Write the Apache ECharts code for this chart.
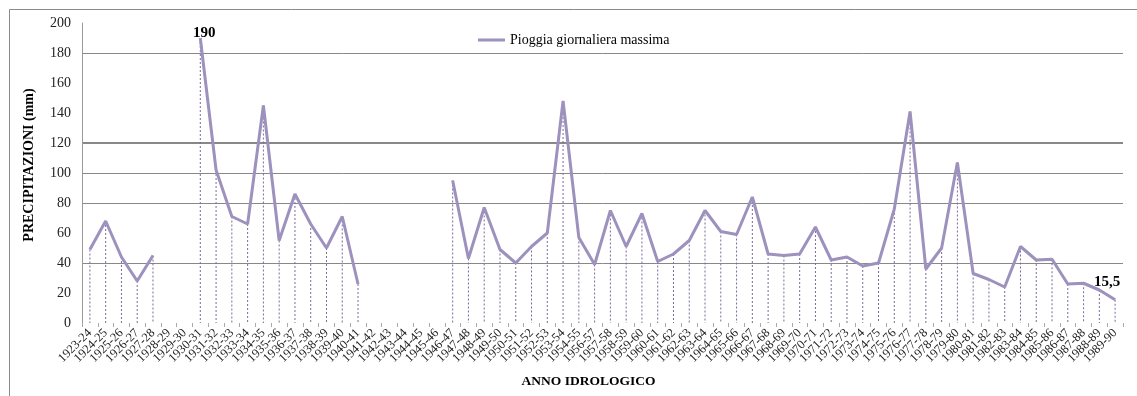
<!DOCTYPE html>
<html>
<head>
<meta charset="utf-8">
<script src="https://cdn.jsdelivr.net/npm/echarts@6/dist/echarts.min.js"></script>
<style>
html,body{margin:0;padding:0;background:#fff;}
#chart{width:1137px;height:396px;}
</style>
</head>
<body>
<div id="chart"></div>
<script>
const categories = ["1923-24","1924-25","1925-26","1926-27","1927-28","1928-29","1929-30","1930-31","1931-32","1932-33","1933-34","1934-35","1935-36","1936-37","1937-38","1938-39","1939-40","1940-41","1941-42","1942-43","1943-44","1944-45","1945-46","1946-47","1947-48","1948-49","1949-50","1950-51","1951-52","1952-53","1953-54","1954-55","1956-57","1957-58","1958-59","1959-60","1960-61","1961-62","1962-63","1963-64","1964-65","1965-66","1966-67","1967-68","1968-69","1969-70","1970-71","1971-72","1972-73","1973-74","1974-75","1975-76","1976-77","1977-78","1978-79","1979-80","1980-81","1981-82","1982-83","1983-84","1984-85","1985-86","1986-87","1987-88","1988-89","1989-90"];
const rainMax = [49,68,44,28,45,null,null,190,102,71,66,145,55,86,66,50,71,26,null,null,null,null,null,95,43,77,49,40,51,60,148,57,39,75,51,73,41,46,55,75,61,59,84,46,45,46,64,42,44,38,40,76,141,36,50,107,33,29,24,51,42,42.5,26,26.5,22,15.5];
const labelledIdx = [7, 65];
const yTicks = [0,20,40,60,80,100,120,140,160,180,200];
const visibleGrid = [180,120,100,80,40];
const seriesName = "Pioggia giornaliera massima";

const serif = "'Liberation Serif', 'Times New Roman', serif";
const lineColor = "#9d91bd";
const dropColor = "#7b6b9e";

const lineData = rainMax.map((v, i) => {
  if (!labelledIdx.includes(i)) return v;
  return {
    value: v,
    label: {
      show: true,
      position: 'top',
      offset: i === 7 ? [4, 8] : [-8, -5],
      formatter: p => String(p.value).replace('.', ','),
      fontFamily: serif, fontWeight: 'bold', fontSize: 15, color: '#000'
    }
  };
});
const dropData = rainMax.map((v, i) => [i, v]).filter(d => d[1] !== null);

const chart = echarts.init(document.getElementById('chart'));
chart.setOption({
  animation: false,
  backgroundColor: '#fff',
  grid: {left: 82, right: 14, top: 23, bottom: 73},
  graphic: [{
    type: 'rect', left: 7, top: 7, silent: true,
    shape: {width: 1140, height: 400},
    style: {fill: 'none', stroke: '#8a8a8a', lineWidth: 1}
  }],
  legend: {
    data: [seriesName], left: 473, top: 28, selectedMode: false,
    icon: 'rect', itemWidth: 27, itemHeight: 3,
    textStyle: {fontFamily: serif, fontSize: 14, color: '#000'}
  },
  xAxis: {
    type: 'category', data: categories, boundaryGap: true,
    name: 'ANNO IDROLOGICO', nameLocation: 'middle', nameGap: 52,
    nameTextStyle: {fontFamily: serif, fontWeight: 'bold', fontSize: 13.5, color: '#000', padding: [0, 28, 0, 0]},
    axisLine: {show: false},
    axisTick: {show: true, length: 4, lineStyle: {color: '#aaa'}},
    axisLabel: {rotate: 45, interval: 0, margin: 8, fontFamily: serif, fontSize: 12.5, color: '#222'},
    splitLine: {show: false}
  },
  yAxis: {
    type: 'value', min: 0, max: 200, interval: 20,
    name: 'PRECIPITAZIONI (mm)', nameLocation: 'middle', nameGap: 46, nameRotate: 90,
    nameTextStyle: {fontFamily: serif, fontWeight: 'bold', fontSize: 14, color: '#000', padding: [0, 0, 0, 16]},
    axisLine: {show: true, lineStyle: {color: '#9a9a9a'}},
    axisTick: {show: false},
    axisLabel: {margin: 11, fontFamily: serif, fontSize: 14, color: '#222',
      formatter: v => yTicks.includes(v) ? String(v) : ''},
    splitLine: {show: false}
  },
  series: [
    {
      type: 'custom', name: 'drop', silent: true, z: 1,
      data: dropData,
      encode: {x: 0, y: 1},
      renderItem: (params, api) => {
        const top = api.coord([api.value(0), api.value(1)]);
        const bot = api.coord([api.value(0), 0]);
        return {type: 'line', shape: {x1: top[0], y1: top[1], x2: bot[0], y2: bot[1]},
          style: {stroke: dropColor, lineWidth: 1, lineDash: [2, 2]}};
      }
    },
    {
      type: 'line', name: seriesName, data: lineData, z: 3,
      connectNulls: false, showSymbol: true, symbol: 'circle', symbolSize: 0.1,
      itemStyle: {color: lineColor},
      lineStyle: {color: lineColor, width: 3},
      markLine: {
        silent: true, symbol: 'none', label: {show: false}, z: 0,
        data: visibleGrid.map(v => ({yAxis: v, lineStyle: {color: '#888', width: v === 120 ? 2 : 1, type: 'solid'}}))
      }
    }
  ]
});
</script>
</body>
</html>
